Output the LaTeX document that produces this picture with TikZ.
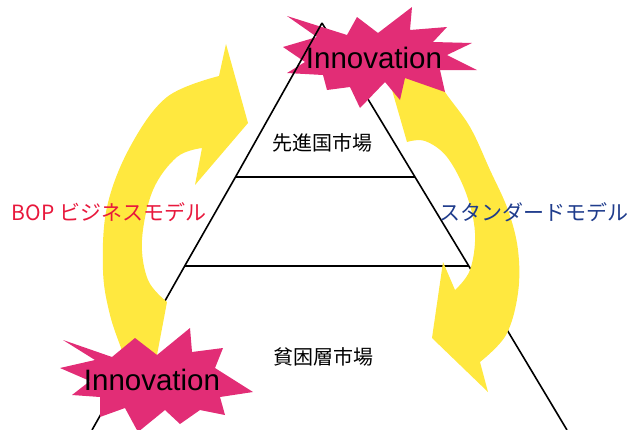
\documentclass[tikz,border=0pt]{standalone}
\usepackage{fontspec}
\setmainfont{Liberation Sans}
\newfontfamily\jpfont{Noto Sans CJK JP}
\definecolor{starpink}{HTML}{E22D76}
\definecolor{arrowyellow}{HTML}{FFE83F}
\definecolor{bopred}{HTML}{E8183C}
\definecolor{stdblue}{HTML}{1F3C8C}
\tikzset{
  edgeline/.style={line width=1.6pt, black},
  starfill/.style={fill=starpink},
  arrowfill/.style={fill=arrowyellow},
  innov/.style={font=\fontsize{29.5}{29.5}\selectfont, inner sep=0pt},
  market/.style={font=\jpfont\fontsize{20}{20}\selectfont, inner sep=0pt},
  model/.style={font=\jpfont\fontsize{21}{21}\selectfont, inner sep=0pt}
}
\begin{document}
\begin{tikzpicture}[x=1pt,y=-1pt]
\useasboundingbox (0,0) rectangle (629,429);
\clip (0,0) rectangle (629,429);
% triangle coordinates
\coordinate (apex) at (322,23);
\coordinate (LA) at (235.5,177);
\coordinate (RA) at (415,177);
\coordinate (LB) at (184.7,266);
\coordinate (RB) at (468.8,266);
\coordinate (LC) at (92,430);
\coordinate (RC) at (567,430);
% triangle lines (under arrows and stars)
\draw[edgeline] (apex) -- (RA) -- (RB) -- (RC);
\draw[edgeline] (LA) -- (LB) -- (LC);
\draw[edgeline] (LA) -- (RA);
\draw[edgeline] (LB) -- (RB);
% left yellow curved arrow (BOP model)
\fill[arrowfill] (150,392) -- (132,390)
  -- plot[smooth,tension=0.6] coordinates {(132,390) (124,357) (110,315) (103,270) (107,207) (130,147) (167,97) (219,76)}
  -- (226,44) -- (248,123) -- (195,185)
  -- plot[smooth,tension=0.6] coordinates {(202,148) (177,157) (153,190) (142,240) (148,280) (167,302)}
  -- cycle;
% right yellow curved arrow (standard model)
\fill[arrowfill] (388,76) -- (392,90) -- (407,142)
  -- plot[smooth,tension=0.6] coordinates {(407,142) (425,141) (447,157) (466,193) (475,233) (470,270) (455,290)}
  -- (443,262) -- (432,338) -- (488,392)
  -- plot[smooth,tension=0.6] coordinates {(480,362) (506,335) (518,293) (518,250) (508,210) (490,170) (470,127) (445,92) (438,76)}
  -- cycle;
% top star
\fill[starfill] (287,16) -- (347,35) -- (357,17) -- (378,33) -- (412,7) -- (410,30) -- (447,27) -- (433,42)
  -- (472,43) -- (447,55) -- (477,70) -- (440,70) -- (445,92) -- (405,78) -- (400,100) -- (385,82)
  -- (360,108) -- (350,87) -- (327,90) -- (323,75) -- (287,73) -- (305,62) -- (283,47) -- (317,37) -- cycle;
% bottom star
\fill[starfill] (63,340) -- (112,357) -- (135,338) -- (157,355) -- (190,328) -- (192,352) -- (223,348)
  -- (215,368) -- (253,392) -- (220,397) -- (225,415) -- (200,410) -- (180,424) -- (165,410)
  -- (138,432) -- (125,408) -- (100,417) -- (100,397) -- (72,395) -- (90,381) -- (60,368) -- (95,360) -- cycle;
% upper left edge drawn over the top star
\draw[edgeline] (apex) -- (LA);
% texts
\node[innov] (innovtop) at (374,58) {Innovation};
\node[innov] (innovbot) at (152,380) {Innovation};
\node[market] (developed) at (322,143) {先進国市場};
\node[market] (poverty) at (323,357) {貧困層市場};
\node[model, text=bopred] (bop) at (109,212) {BOP ビジネスモデル};
\node[model, text=stdblue] (standard) at (534,212) {スタンダードモデル};
\end{tikzpicture}
\end{document}
